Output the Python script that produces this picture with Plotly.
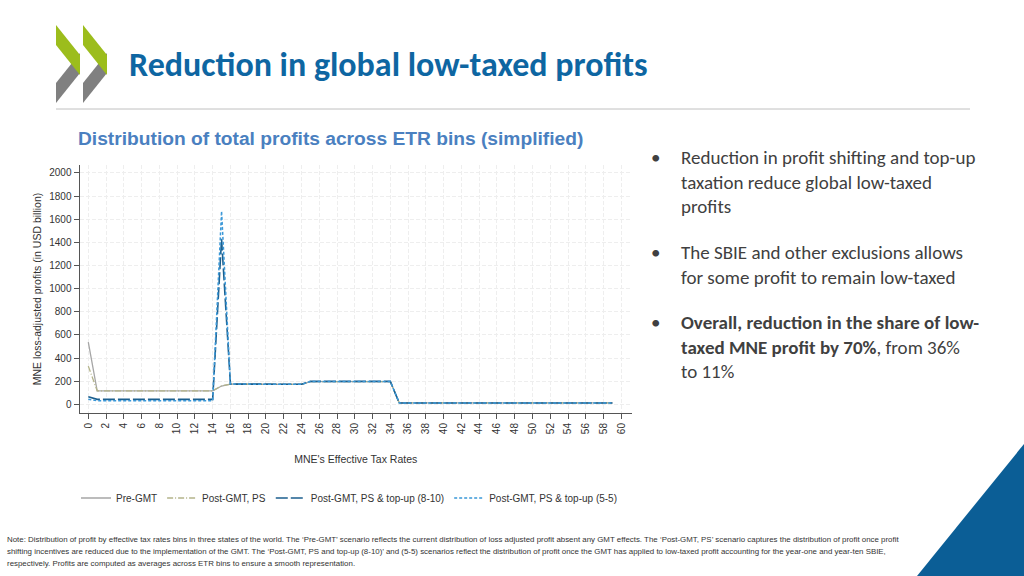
import plotly.graph_objects as go

W, H = 1024, 576

# ---------------- data ----------------
etr_bins = [0, 1, 2, 3, 4, 5, 6, 7, 8, 9, 10, 11, 12, 13, 14, 15, 16, 17, 18, 19,
            20, 21, 22, 23, 24, 25, 26, 27, 28, 29, 30, 31, 32, 33, 34, 35, 36, 37, 38, 39,
            40, 41, 42, 43, 44, 45, 46, 47, 48, 49, 50, 51, 52, 53, 54, 55, 56, 57, 58, 59]

pre_gmt = [537, 117, 117, 117, 117, 117, 117, 117, 117, 117, 117, 117, 117, 117, 117, 158, 174, 174, 174, 174,
           174, 174, 174, 174, 172, 197, 197, 197, 197, 197, 197, 197, 197, 197, 197, 12, 12, 12, 12, 12,
           12, 12, 12, 12, 12, 12, 12, 12, 12, 12, 12, 12, 12, 12, 12, 12, 12, 12, 12, 12]

post_ps = [330, 117, 117, 117, 117, 117, 117, 117, 117, 117, 117, 117, 117, 117, 117, 160, 174, 174, 174, 174,
           174, 174, 174, 174, 172, 197, 197, 197, 197, 197, 197, 197, 197, 197, 197, 12, 12, 12, 12, 12,
           12, 12, 12, 12, 12, 12, 12, 12, 12, 12, 12, 12, 12, 12, 12, 12, 12, 12, 12, 12]

post_topup_8_10 = [66, 43, 43, 43, 43, 43, 43, 43, 43, 43, 43, 43, 43, 43, 43, 1430, 175, 175, 175, 175,
                   175, 175, 175, 175, 173, 198, 198, 198, 198, 198, 198, 198, 198, 198, 198, 12, 12, 12, 12, 12,
                   12, 12, 12, 12, 12, 12, 12, 12, 12, 12, 12, 12, 12, 12, 12, 12, 12, 12, 12, 12]

post_topup_5_5 = [43, 31, 31, 31, 31, 31, 31, 31, 31, 31, 31, 31, 31, 31, 31, 1670, 175, 175, 175, 175,
                  175, 175, 175, 175, 173, 198, 198, 198, 198, 198, 198, 198, 198, 198, 198, 12, 12, 12, 12, 12,
                  12, 12, 12, 12, 12, 12, 12, 12, 12, 12, 12, 12, 12, 12, 12, 12, 12, 12, 12, 12]

series_names = ["Pre-GMT", "Post-GMT, PS", "Post-GMT, PS & top-up (8-10)", "Post-GMT, PS & top-up (5-5)"]

x_ticks = [0, 2, 4, 6, 8, 10, 12, 14, 16, 18, 20, 22, 24, 26, 28, 30, 32, 34, 36, 38, 40,
           42, 44, 46, 48, 50, 52, 54, 56, 58, 60]
y_ticks = [0, 200, 400, 600, 800, 1000, 1200, 1400, 1600, 1800, 2000]

title_text = "Reduction in global low-taxed profits"
subtitle_text = "Distribution of total profits across ETR bins (simplified)"
bullets = [
    "Reduction in profit shifting and top-up<br>taxation reduce global low-taxed<br>profits",
    "The SBIE and other exclusions allows<br>for some profit to remain low-taxed",
    "<b>Overall, reduction in the share of low-<br>taxed MNE profit by 70%</b>, from 36%<br>to 11%",
]
note_lines = [
    "Note: Distribution of profit by effective tax rates bins in three states of the world. The \u2018Pre-GMT\u2019 scenario reflects the current distribution of loss adjusted profit absent any GMT effects. The \u2018Post-GMT, PS\u2019 scenario captures the distribution of profit once profit",
    "shifting incentives are reduced due to the implementation of the GMT. The \u2018Post-GMT, PS and top-up (8-10)\u2019 and (5-5) scenarios reflect the distribution of profit once the GMT has applied to low-taxed profit accounting for the year-one and year-ten SBIE,",
    "respectively. Profits are computed as averages across ETR bins to ensure a smooth representation.",
]


def px(x):
    return x / W


def py(y):
    return 1 - y / H


fig = go.Figure()

styles = [
    dict(color="#a6a6a6", width=1.3, dash="solid"),
    dict(color="#b4b48a", width=1.3, dash="6px,2px,1px,2px"),
    dict(color="#1c5f8e", width=1.6, dash="12px,3px"),
    dict(color="#3a98d8", width=1.5, dash="3px,2px"),
]
for name, ys, st in zip(series_names, [pre_gmt, post_ps, post_topup_8_10, post_topup_5_5], styles):
    fig.add_trace(go.Scatter(x=etr_bins, y=ys, mode="lines", name=name, line=st))

axis_font = dict(family="Liberation Sans, Arial, sans-serif", size=10, color="#333333")

fig.update_layout(
    width=W, height=H,
    margin=dict(l=0, r=0, t=0, b=0),
    paper_bgcolor="white", plot_bgcolor="white",
    showlegend=True,
    legend=dict(orientation="h", x=px(76), y=py(498), xanchor="left", yanchor="middle",
                font=dict(family="Liberation Sans, Arial, sans-serif", size=10, color="#333333"),
                bgcolor="rgba(0,0,0,0)", traceorder="normal"),
    xaxis=dict(domain=[px(79.5), px(632)], range=[-0.99, 61.2],
               tickmode="array", tickvals=x_ticks, ticktext=[str(v) for v in x_ticks],
               tickangle=-90, ticks="outside", ticklen=5, tickcolor="#555555",
               showline=True, linecolor="#555555", linewidth=1,
               showgrid=True, gridcolor="#eeeeee", gridwidth=1, griddash="4px,2px",
               zeroline=False, tickfont=axis_font,
               title=dict(text="MNE's Effective Tax Rates", font=dict(family="Liberation Sans, Arial, sans-serif", size=10.5, color="#333333"), standoff=22)),
    yaxis=dict(domain=[py(413), py(165)], range=[-75, 2069],
               tickmode="array", tickvals=y_ticks, ticktext=[str(v) for v in y_ticks],
               ticks="outside", ticklen=5, tickcolor="#555555",
               showline=True, linecolor="#555555", linewidth=1,
               showgrid=True, gridcolor="#eeeeee", gridwidth=1, griddash="4px,2px",
               zeroline=False, tickfont=axis_font,
               title=dict(text="MNE loss-adjusted profits (in USD billion)", font=dict(family="Liberation Sans, Arial, sans-serif", size=10.5, color="#333333"), standoff=5)),
)

shapes = []
# OECD-style chevron logo
for L, R in [(56, 80), (83, 107)]:
    T, B = 25, 103
    gray = f"M {px(L)},{py(B-20)} L {px(R)},{py(B-50)} L {px(R)},{py(B-30)} L {px(L)},{py(B)} Z"
    green = f"M {px(L)},{py(T)} L {px(R)},{py(T+30)} L {px(R)},{py(T+50)} L {px(L)},{py(T+20)} Z"
    shapes.append(dict(type="path", xref="paper", yref="paper", path=gray, fillcolor="#808080", line=dict(width=0)))
    shapes.append(dict(type="path", xref="paper", yref="paper", path=green, fillcolor="#9cbd1c", line=dict(width=0)))
# header rule
shapes.append(dict(type="line", xref="paper", yref="paper", x0=px(56), x1=px(970), y0=py(109), y1=py(109),
                   line=dict(color="#c0c0c0", width=1)))
# bottom-right corner triangle
tri = f"M {px(917)},{py(576)} L {px(1024)},{py(444)} L {px(1024)},{py(576)} Z"
shapes.append(dict(type="path", xref="paper", yref="paper", path=tri, fillcolor="#0b5e96", line=dict(width=0)))
fig.update_layout(shapes=shapes)

annotations = []
annotations.append(dict(text=f"<b>{title_text}</b>", x=px(127), y=py(64), xref="paper", yref="paper",
                        xanchor="left", yanchor="middle", showarrow=False,
                        font=dict(family="Calibri, Carlito, Lato, sans-serif", size=34, color="#0e66a2")))
annotations.append(dict(text=f"<b>{subtitle_text}</b>", x=px(76), y=py(138), xref="paper", yref="paper",
                        xanchor="left", yanchor="middle", showarrow=False,
                        font=dict(family="Liberation Sans Narrow, Arial Narrow, Liberation Sans, sans-serif", size=19.2, color="#4a80c0")))
bullet_tops = [157, 252, 322]
for btxt, yc in zip(bullets, bullet_tops):
    annotations.append(dict(text="\u2022", x=px(649), y=py(yc), xref="paper", yref="paper",
                            xanchor="left", yanchor="middle", showarrow=False,
                            font=dict(family="Calibri, Carlito, Lato, sans-serif", size=19, color="#404040")))
    annotations.append(dict(text=btxt, x=px(679), y=py(yc - 13), xref="paper", yref="paper",
                            xanchor="left", yanchor="top", align="left", showarrow=False,
                            font=dict(family="Calibri, Carlito, Lato, sans-serif", size=19, color="#404040")))
for i, line in enumerate(note_lines):
    annotations.append(dict(text=line, x=px(5), y=py(539 + 12 * i), xref="paper", yref="paper",
                            xanchor="left", yanchor="middle", showarrow=False,
                            font=dict(family="Liberation Sans Narrow, Arial Narrow, Liberation Sans, sans-serif", size=7.9, color="#333333")))
fig.update_layout(annotations=annotations)

fig.write_html("out.html", config={"displayModeBar": False},
               post_script="document.body.style.margin='0px'; document.body.style.overflow='hidden';")
